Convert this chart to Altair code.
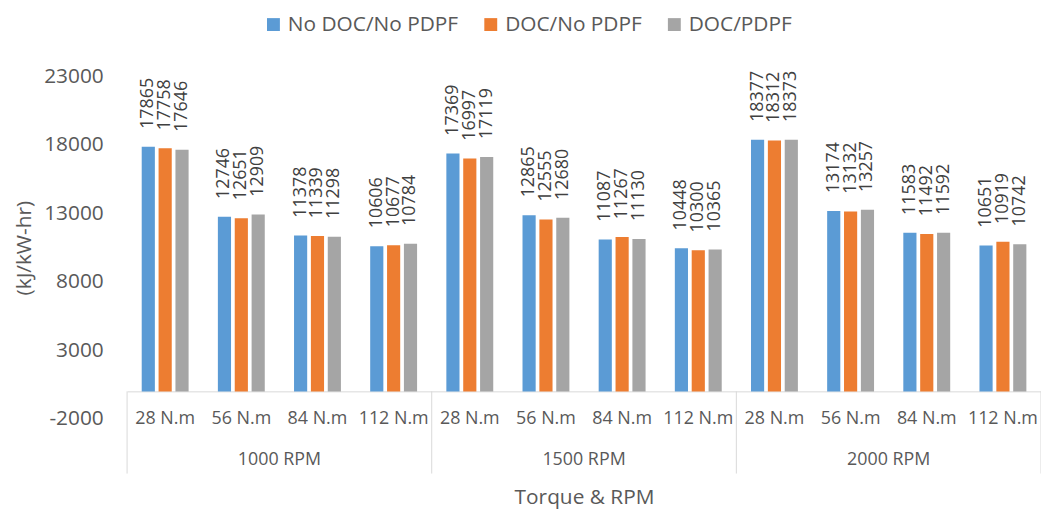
import altair as alt
import pandas as pd

rpm_groups = ["1000 RPM", "1500 RPM", "2000 RPM"]
torques = ["28 N.m", "56 N.m", "84 N.m", "112 N.m"]
series = ["No DOC/No PDPF", "DOC/No PDPF", "DOC/PDPF"]
colors = ["#5B9BD5", "#ED7D31", "#A5A5A5"]

no_doc_no_pdpf = [17865, 12746, 11378, 10606, 17369, 12865, 11087, 10448, 18377, 13174, 11583, 10651]
doc_no_pdpf = [17758, 12651, 11339, 10677, 16997, 12555, 11267, 10300, 18312, 13132, 11492, 10919]
doc_pdpf = [17646, 12909, 11298, 10784, 17119, 12680, 11130, 10365, 18373, 13257, 11592, 10742]
y_ticks = [-2000, 3000, 8000, 13000, 18000, 23000]

cats = [f"{r}|{t}" for r in rpm_groups for t in torques]
rows = []
for s, vals in zip(series, [no_doc_no_pdpf, doc_no_pdpf, doc_pdpf]):
    for c, v in zip(cats, vals):
        rows.append({"cat": c, "series": s, "value": v})
df = pd.DataFrame(rows)

W, H = 921, 345
TXT = "#595959"
FONT = "Open Sans"

x_scale = alt.Scale(domain=cats, paddingInner=0, paddingOuter=0)
y_scale = alt.Scale(domain=[-2000, 23000], nice=False, zero=False)

x_axis = alt.Axis(
    title="Torque & RPM", labelExpr="split(datum.label, '|')[1]", labelAngle=0,
    labelFontSize=18, labelColor=TXT, labelBaseline="middle", labelPadding=27.6,
    ticks=False, domainColor="#d9d9d9", domainWidth=1, offset=-27.6,
    titleFontSize=21, titleFontWeight="normal", titleColor=TXT,
    titleY=107, titleBaseline="middle", labelFont=FONT, titleFont=FONT,
)
y_axis = alt.Axis(
    title="(kJ/kW-hr)", values=y_ticks, grid=False, domain=False, ticks=False,
    tickSize=0, labelPadding=24, labelFontSize=21, labelColor=TXT,
    labelExpr="'' + datum.value", labelFont=FONT, titleFont=FONT,
    titleFontSize=21, titleFontWeight="normal", titleColor=TXT, titleAngle=270,
    titleX=-103, titleY=H / 2, titleAlign="center", titleBaseline="middle",
)

x_enc = alt.X("cat:N", sort=cats, scale=x_scale, axis=x_axis)
xo_enc = alt.XOffset(
    "series:N", sort=series,
    scale=alt.Scale(domain=series, paddingInner=0.22, paddingOuter=0.8675),
)

bars = alt.Chart(df).mark_bar().encode(
    x=x_enc,
    xOffset=xo_enc,
    y=alt.Y("value:Q", scale=y_scale, axis=y_axis),
    y2=alt.datum(0),
    color=alt.Color(
        "series:N", sort=series, scale=alt.Scale(domain=series, range=colors),
        legend=alt.Legend(
            title=None, orient="none", legendX=137, legendY=-63, direction="horizontal",
            symbolType="square", symbolSize=169, symbolStrokeWidth=0, labelLimit=0,
            labelFontSize=21, labelColor=TXT, labelFont=FONT, columnPadding=22, labelOffset=4,
        ),
    ),
)

labels = alt.Chart(df).mark_text(
    angle=270, align="left", baseline="middle", dx=18, fontSize=18, color="#404040", font=FONT
).encode(
    x=alt.X("cat:N", sort=cats),
    xOffset=alt.XOffset("series:N", sort=series),
    y=alt.Y("value:Q"),
    text=alt.Text("value:Q", format="d"),
)

rpm_df = pd.DataFrame({"cat": [f"{r}|{torques[2]}" for r in rpm_groups], "label": rpm_groups})
rpm_text = alt.Chart(rpm_df).mark_text(fontSize=18, color=TXT, baseline="middle", font=FONT).encode(
    x=alt.X("cat:N", sort=cats, bandPosition=0),
    y=alt.datum(-5043),
    text="label:N",
)

sep_df = pd.DataFrame({"cat": [f"{r}|{torques[0]}" for r in rpm_groups]})
sep_rules = alt.Chart(sep_df).mark_rule(color="#d9d9d9", strokeWidth=1).encode(
    x=alt.X("cat:N", sort=cats, bandPosition=0),
    y=alt.datum(0),
    y2=alt.datum(-6000),
)
end_df = pd.DataFrame({"cat": [cats[-1]]})
end_rule = alt.Chart(end_df).mark_rule(color="#d9d9d9", strokeWidth=1).encode(
    x=alt.X("cat:N", sort=cats, bandPosition=1),
    y=alt.datum(0),
    y2=alt.datum(-6000),
)

chart = alt.layer(bars, labels, sep_rules, end_rule, rpm_text).properties(
    width=W, height=H,
    autosize=alt.AutoSizeParams(type="none"),
    padding={"left": 120, "top": 67, "right": 0, "bottom": 91},
).configure(font=FONT).configure_view(stroke=None)

chart.save("out.html", embed_options={"renderer": "svg", "actions": False})
